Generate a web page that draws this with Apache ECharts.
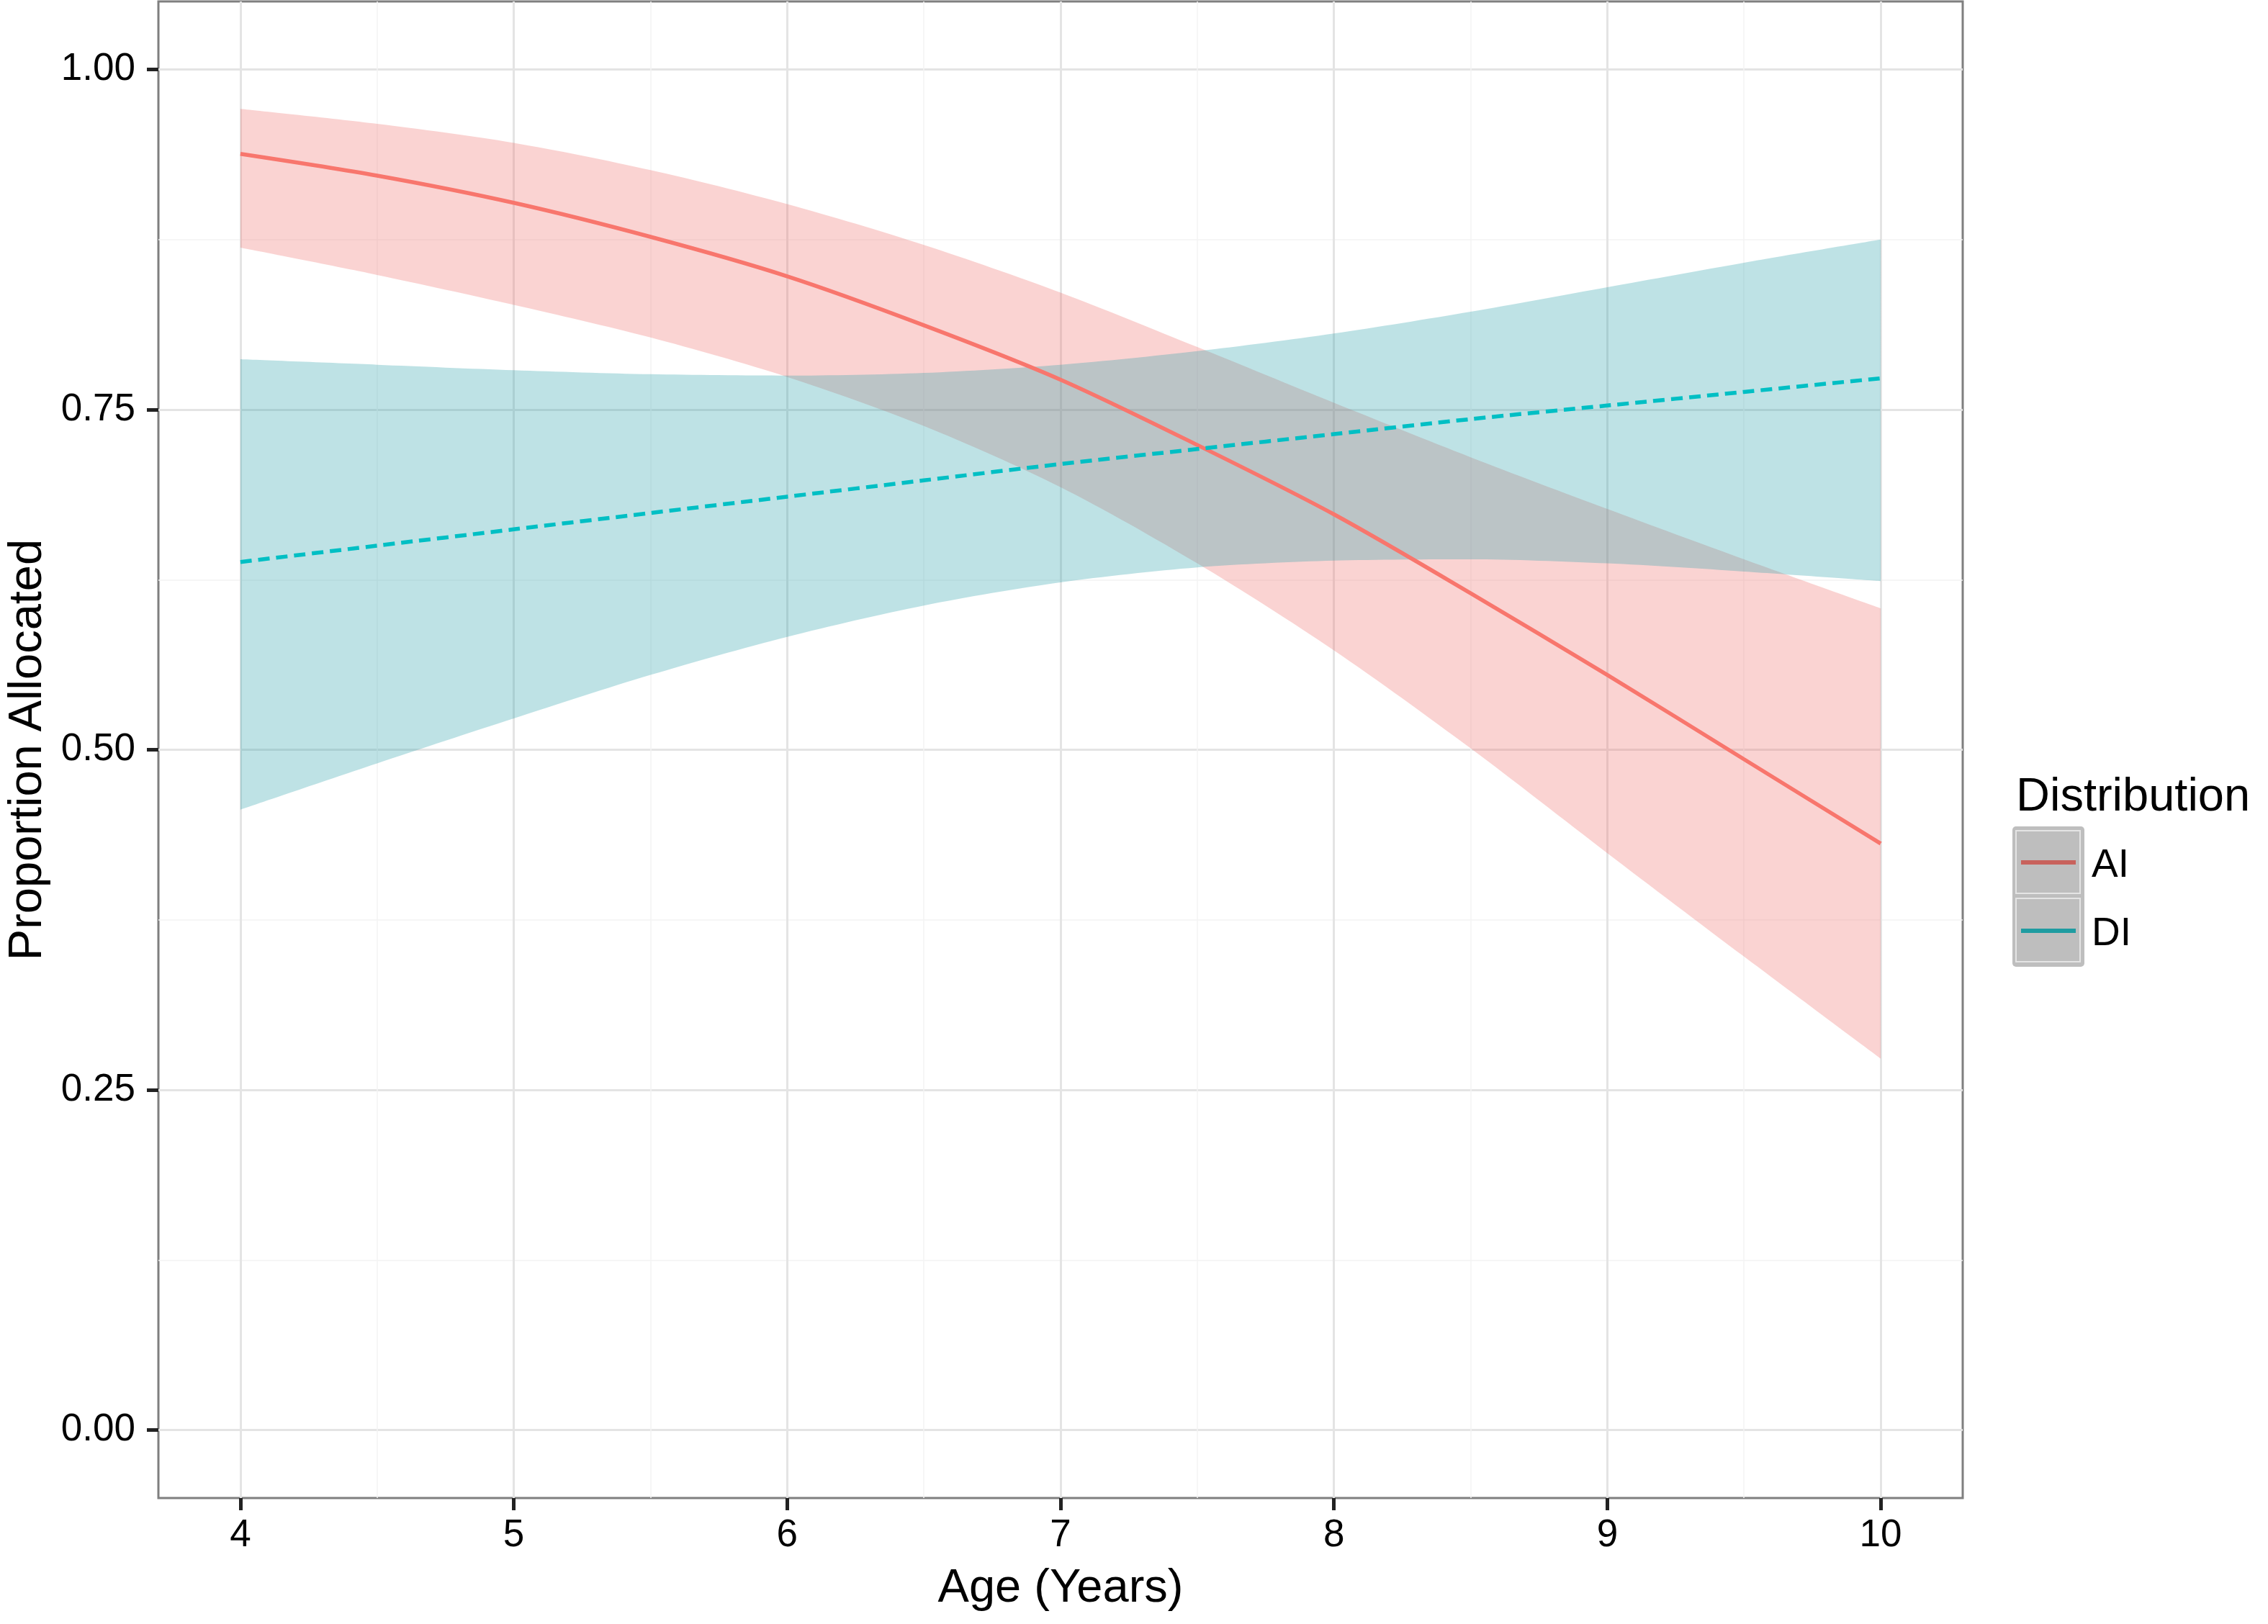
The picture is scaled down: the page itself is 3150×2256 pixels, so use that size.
<!DOCTYPE html>
<html>
<head>
<meta charset="utf-8">
<script src="https://cdn.jsdelivr.net/npm/echarts@6/dist/echarts.min.js"></script>
<style>
  html, body { margin: 0; padding: 0; background: #fff; }
  #main { width: 3150px; height: 2256px; }
</style>
</head>
<body>
<div id="main"></div>
<script>
// data
var ages = [4, 4.5, 5, 5.5, 6, 6.5, 7, 7.5, 8, 8.5, 9, 9.5, 10];
var aiFit   = [0.938, 0.922, 0.902, 0.877, 0.848, 0.812, 0.772, 0.724, 0.673, 0.615, 0.555, 0.493, 0.431];
var aiUpper = [0.971, 0.960, 0.946, 0.926, 0.901, 0.871, 0.836, 0.796, 0.755, 0.715, 0.677, 0.640, 0.604];
var aiLower = [0.869, 0.849, 0.827, 0.803, 0.774, 0.738, 0.693, 0.637, 0.573, 0.501, 0.424, 0.348, 0.273];
var diFit   = [0.638, 0.650, 0.662, 0.674, 0.686, 0.698, 0.710, 0.721, 0.732, 0.743, 0.753, 0.763, 0.773];
var diUpper = [0.787, 0.783, 0.779, 0.776, 0.775, 0.777, 0.783, 0.793, 0.806, 0.822, 0.840, 0.858, 0.875];
var diLower = [0.456, 0.490, 0.523, 0.555, 0.583, 0.606, 0.623, 0.634, 0.639, 0.640, 0.637, 0.631, 0.624];

var xTicks = [4, 5, 6, 7, 8, 9, 10];
var xMinor = [4.5, 5.5, 6.5, 7.5, 8.5, 9.5];
var yTicks = [0, 0.25, 0.5, 0.75, 1];
var yMinor = [0.125, 0.375, 0.625, 0.875];
var groups = ['AI', 'DI'];

var FONT = '"Liberation Sans", Arial, sans-serif';
var RED = '#F8766D', TEAL = '#00BFC4';

function pairs(ys) {
    return ages.map(function (a, i) { return [a, ys[i]]; });
}
// for the ribbons the y value goes first so that the stack sums y, not x
function bandLow(lo) {
    return ages.map(function (a, i) { return [lo[i], a]; });
}
function bandSpread(lo, hi) {
    return ages.map(function (a, i) { return [+(hi[i] - lo[i]).toFixed(4), a]; });
}

var chart = echarts.init(document.getElementById('main'), null, {renderer: 'canvas'});

var option = {
    animation: false,
    grid: {
        left: 220, right: 424, top: 2, bottom: 175,
        outerBoundsMode: 'none',
        containLabel: false,
        show: true,
        borderColor: '#7f7f7f',
        borderWidth: 3,
        backgroundColor: 'transparent'
    },
    xAxis: [
        {
            type: 'value',
            min: 3.7, max: 10.3,
            name: 'Age (Years)',
            nameLocation: 'middle',
            nameGap: 94,
            nameTextStyle: {fontFamily: FONT, fontSize: 65, color: '#000'},
            axisLine: {show: false, onZero: false},
            axisTick: {show: true, length: 17, customValues: xTicks, lineStyle: {color: '#222', width: 5}},
            axisLabel: {
                customValues: xTicks,
                margin: 26,
                fontFamily: FONT, fontSize: 53, color: '#000'
            },
            splitLine: {show: true, lineStyle: {color: '#e4e4e4', width: 3}}
        },
        {
            // minor grid only
            type: 'value',
            min: 3.7, max: 10.3,
            position: 'top',
            axisLine: {show: false, onZero: false},
            axisTick: {show: false, customValues: xMinor},
            axisLabel: {show: false},
            splitLine: {show: true, lineStyle: {color: '#f3f3f3', width: 1.5}}
        }
    ],
    yAxis: [
        {
            type: 'value',
            min: -0.05, max: 1.05,
            name: 'Proportion Allocated',
            nameLocation: 'middle',
            nameGap: 148,
            nameRotate: 90,
            nameTextStyle: {fontFamily: FONT, fontSize: 65, color: '#000'},
            axisLine: {show: false, onZero: false},
            axisTick: {show: true, length: 16, customValues: yTicks, lineStyle: {color: '#222', width: 5}},
            axisLabel: {
                customValues: yTicks,
                margin: 32,
                formatter: function (v) { return v.toFixed(2); },
                fontFamily: FONT, fontSize: 53, color: '#000'
            },
            splitLine: {show: true, lineStyle: {color: '#e4e4e4', width: 3}}
        },
        {
            type: 'value',
            min: -0.05, max: 1.05,
            position: 'right',
            axisLine: {show: false, onZero: false},
            axisTick: {show: false, customValues: yMinor},
            axisLabel: {show: false},
            splitLine: {show: true, lineStyle: {color: '#f3f3f3', width: 1.5}}
        }
    ],
    series: [
        {
            name: groups[0],
            type: 'line',
            data: pairs(aiFit),
            smooth: 0.3,
            showSymbol: false,
            lineStyle: {color: RED, width: 5.5}
        },
        {
            name: groups[1],
            type: 'line',
            data: pairs(diFit),
            smooth: 0.3,
            showSymbol: false,
            lineStyle: {color: TEAL, width: 5.5, type: [16, 9]}
        },
        {
            name: 'AI lower',
            type: 'line',
            stack: 'aiBand',
            encode: {x: 1, y: 0},
            data: bandLow(aiLower),
            smooth: 0.3,
            showSymbol: false,
            lineStyle: {opacity: 0}
        },
        {
            name: 'AI band',
            type: 'line',
            stack: 'aiBand',
            encode: {x: 1, y: 0},
            data: bandSpread(aiLower, aiUpper),
            smooth: 0.3,
            showSymbol: false,
            lineStyle: {opacity: 0},
            areaStyle: {color: 'rgba(240,110,105,0.3)', opacity: 1}
        },
        {
            name: 'DI lower',
            type: 'line',
            stack: 'diBand',
            encode: {x: 1, y: 0},
            data: bandLow(diLower),
            smooth: 0.3,
            showSymbol: false,
            lineStyle: {opacity: 0}
        },
        {
            name: 'DI band',
            type: 'line',
            stack: 'diBand',
            encode: {x: 1, y: 0},
            data: bandSpread(diLower, diUpper),
            smooth: 0.3,
            showSymbol: false,
            lineStyle: {opacity: 0},
            areaStyle: {color: 'rgba(40,160,168,0.3)', opacity: 1}
        }
    ],
    // ggplot-style legend on the right
    graphic: [
        {type: 'text', left: 2800, top: 1076,
         style: {text: 'Distribution', font: '65px ' + FONT, fill: '#000'}},
        {type: 'rect', shape: {x: 2795, y: 1148, width: 100, height: 195, r: 5},
         style: {fill: '#bebebe'}},
        {type: 'rect', shape: {x: 2800, y: 1154, width: 89, height: 87},
         style: {fill: 'none', stroke: '#e4e4e4', lineWidth: 2}},
        {type: 'rect', shape: {x: 2800, y: 1248, width: 89, height: 88},
         style: {fill: 'none', stroke: '#e4e4e4', lineWidth: 2}},
        {type: 'line', shape: {x1: 2807, y1: 1198, x2: 2883, y2: 1198},
         style: {stroke: '#c8625c', lineWidth: 6}},
        {type: 'line', shape: {x1: 2807, y1: 1293, x2: 2883, y2: 1293},
         style: {stroke: '#1f9ca1', lineWidth: 6}},
        {type: 'text', left: 2905, top: 1175,
         style: {text: groups[0], font: '55px ' + FONT, fill: '#000'}},
        {type: 'text', left: 2905, top: 1270,
         style: {text: groups[1], font: '55px ' + FONT, fill: '#000'}}
    ]
};

chart.setOption(option);
</script>
</body>
</html>
